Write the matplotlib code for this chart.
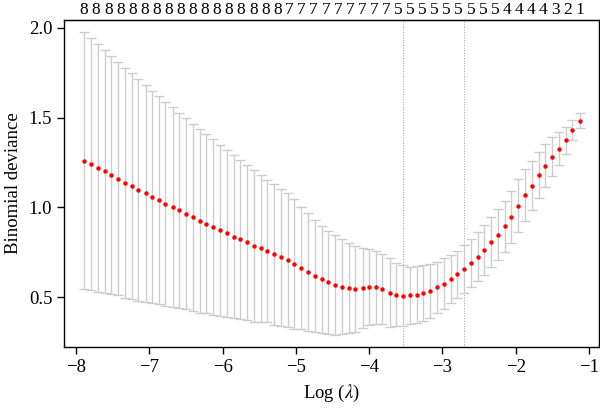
import numpy as np
import matplotlib
import matplotlib.pyplot as plt

matplotlib.use('agg')

plt.rcParams['font.family'] = ['Liberation Serif', 'DejaVu Serif']
plt.rcParams['mathtext.fontset'] = 'stix'

# log(lambda) grid of the cv fit
log_lambda = [-7.89, -7.79, -7.70, -7.61, -7.52, -7.42, -7.33, -7.24, -7.15, -7.05,
              -6.96, -6.87, -6.78, -6.68, -6.59, -6.50, -6.41, -6.31, -6.22, -6.13,
              -6.04, -5.94, -5.85, -5.76, -5.67, -5.57, -5.48, -5.39, -5.30, -5.20,
              -5.11, -5.02, -4.93, -4.83, -4.74, -4.65, -4.56, -4.46, -4.37, -4.28,
              -4.19, -4.09, -4.00, -3.91, -3.82, -3.72, -3.63, -3.54, -3.45, -3.35,
              -3.26, -3.17, -3.08, -2.98, -2.89, -2.80, -2.71, -2.61, -2.52, -2.43,
              -2.34, -2.24, -2.15, -2.06, -1.97, -1.87, -1.78, -1.69, -1.60, -1.50,
              -1.41, -1.32, -1.23, -1.13]

# mean binomial deviance
cvm = [1.260, 1.240, 1.220, 1.200, 1.180, 1.160, 1.137, 1.119, 1.097, 1.079,
       1.059, 1.040, 1.020, 1.002, 0.983, 0.965, 0.945, 0.926, 0.910, 0.890,
       0.873, 0.855, 0.838, 0.822, 0.805, 0.787, 0.772, 0.758, 0.739, 0.723,
       0.708, 0.686, 0.664, 0.640, 0.620, 0.600, 0.583, 0.568, 0.559, 0.550,
       0.546, 0.550, 0.557, 0.555, 0.545, 0.526, 0.515, 0.510, 0.512, 0.515,
       0.523, 0.537, 0.555, 0.576, 0.602, 0.627, 0.658, 0.690, 0.725, 0.765,
       0.807, 0.849, 0.895, 0.948, 1.009, 1.068, 1.121, 1.180, 1.231, 1.282,
       1.327, 1.374, 1.431, 1.481]

# standard error of the deviance
cvsd = [0.713, 0.701, 0.688, 0.675, 0.662, 0.649, 0.639, 0.626, 0.617, 0.604,
        0.591, 0.578, 0.569, 0.554, 0.544, 0.530, 0.521, 0.511, 0.497, 0.490,
        0.476, 0.466, 0.454, 0.442, 0.432, 0.422, 0.410, 0.396, 0.391, 0.381,
        0.371, 0.362, 0.341, 0.329, 0.312, 0.299, 0.287, 0.276, 0.263, 0.250,
        0.237, 0.222, 0.213, 0.203, 0.196, 0.191, 0.176, 0.167, 0.159, 0.158,
        0.156, 0.150, 0.144, 0.140, 0.136, 0.132, 0.133, 0.133, 0.137, 0.140,
        0.141, 0.142, 0.142, 0.145, 0.147, 0.143, 0.137, 0.129, 0.119, 0.109,
        0.093, 0.076, 0.057, 0.042]

# number of nonzero coefficients shown on the top axis
nz_labels = ['8'] * 17 + ['7'] * 9 + ['5'] * 9 + ['4'] * 4 + ['3', '2', '1']

x_ticks = [-8, -7, -6, -5, -4, -3, -2, -1]
y_ticks = [0.5, 1.0, 1.5, 2.0]

x = np.array(log_lambda)
m = np.array(cvm)
sd = np.array(cvsd)

# lambda.min and lambda.1se
i_min = int(np.argmin(m))
ok = np.where(m <= m[i_min] + sd[i_min])[0]
i_1se = int(ok.max())

fig = plt.figure(figsize=(6, 4.08), dpi=100)
ax = fig.add_axes([0.107, 0.150, 0.892, 0.800])

ax.errorbar(x, m, yerr=sd, fmt='none', ecolor='#cccccc', elinewidth=1.0,
            capsize=3.6, capthick=1.0, zorder=1)
ax.plot(x, m, 'o', color='#ff0000', markersize=3.2, markeredgewidth=0, zorder=3)

ax.axvline(x[i_min], color='#a0a0a0', linestyle=':', linewidth=0.7, zorder=0)
ax.axvline(x[i_1se], color='#a0a0a0', linestyle=':', linewidth=0.7, zorder=0)

ax.margins(x=0.04, y=0.04)
ax.set_xticks(x_ticks)
ax.set_yticks(y_ticks)
ax.set_yticklabels(['0.5', '1.0', '1.5', '2.0'])
ax.tick_params(direction='out', length=5, width=1, labelsize=13.5, colors='black')
for s in ax.spines.values():
    s.set_linewidth(1.0)

ax.set_xlabel(r'Log ($\lambda$)', fontsize=13.5, labelpad=5)
ax.set_ylabel('Binomial deviance', fontsize=13.5, labelpad=5)

top = ax.secondary_xaxis('top')
top.set_xticks(np.linspace(x[0], x[-1], len(nz_labels)))
top.set_xticklabels(nz_labels)
top.tick_params(length=0, pad=2, labelsize=12.5)

plt.savefig('out.png', dpi=100)
